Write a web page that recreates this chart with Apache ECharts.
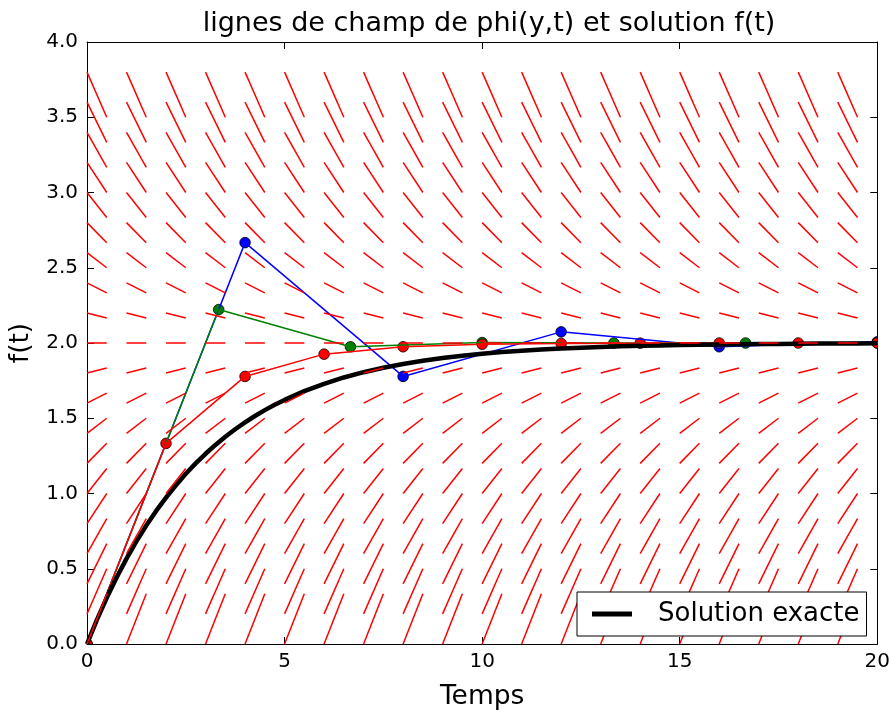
<!DOCTYPE html>
<html><head><meta charset="utf-8">
<script src="https://cdn.jsdelivr.net/npm/echarts@6/dist/echarts.min.js"></script>
<style>html,body{margin:0;padding:0;background:#fff}#chart{width:893px;height:716px}</style>
</head><body><div id="chart"></div>
<script>
// ---- data ----
const xTicks = [0, 5, 10, 15, 20];
const yTicks = [0, 0.5, 1.0, 1.5, 2.0, 2.5, 3.0, 3.5, 4.0];

// Euler approximations
const tBlue  = [0, 4, 8, 12, 16, 20];
const yBlue  = [0, 2.667, 1.778, 2.074, 1.975, 2.008];
const tGreen = [0, 3.333, 6.667, 10, 13.333, 16.667, 20];
const yGreen = [0, 2.222, 1.975, 2.003, 1.9997, 2.0, 2.0];
const tRed   = [0, 2, 4, 6, 8, 10, 12, 14, 16, 18, 20];
const yRed   = [0, 1.333, 1.778, 1.926, 1.975, 1.992, 1.997, 1.999, 2.0, 2.0, 2.0];

// exact solution
const tExact = [0,0.25,0.5,0.75,1,1.25,1.5,1.75,2,2.25,2.5,2.75,3,3.25,3.5,3.75,4,4.25,4.5,4.75,5,
                5.5,6,6.5,7,7.5,8,8.5,9,9.5,10,
                10.5,11,11.5,12,12.5,13,13.5,14,14.5,15,15.5,16,16.5,17,17.5,18,18.5,19,19.5,20];
const yExact = [0,0.160,0.307,0.442,0.567,0.682,0.787,0.884,0.973,1.055,1.131,1.200,1.264,1.323,1.377,1.427,1.473,1.515,1.554,1.589,1.622,
                1.680,1.729,1.771,1.806,1.836,1.861,1.882,1.900,1.916,1.929,
                1.940,1.949,1.957,1.963,1.969,1.974,1.978,1.981,1.984,1.987,
                1.989,1.990,1.992,1.993,1.994,1.995,1.996,1.996,1.997,1.998];

// direction field: grid columns, rows, slope per row
const fieldT = [0,1,2,3,4,5,6,7,8,9,10,11,12,13,14,15,16,17,18,19];
const fieldY = [0,0.2,0.4,0.6,0.8,1.0,1.2,1.4,1.6,1.8,2.0,2.2,2.4,2.6,2.8,3.0,3.2,3.4,3.6,3.8];
const fieldSlope = [0.667,0.6,0.533,0.467,0.4,0.333,0.267,0.2,0.133,0.067,0,
                    -0.067,-0.133,-0.2,-0.267,-0.333,-0.4,-0.467,-0.533,-0.6];
const SEG = 0.5;

const zip = (a, b) => a.map((v, i) => [v, b[i]]);
const fieldData = [];
fieldY.forEach((y, i) => fieldT.forEach(t => fieldData.push([t, y, fieldSlope[i]])));

const FONT = 'DejaVu Sans';
const chart = echarts.init(document.getElementById('chart'), null, {renderer: 'canvas'});

const axisCommon = {
  type: 'value',
  axisLine: {show: true, onZero: false, lineStyle: {color: '#000', width: 1}},
  axisTick: {show: true, inside: true, length: 7, lineStyle: {color: '#000', width: 1}},
  splitLine: {show: false},
};

function eulerLine(name, t, y, color) {
  return {
    name, type: 'line', data: zip(t, y), z: 2,
    showSymbol: false, symbol: 'none',
    lineStyle: {color, width: 1.5},
    itemStyle: {color},
    emphasis: {disabled: true}
  };
}
function eulerMarkers(name, t, y, color) {
  return {
    name: name + '_m', type: 'custom', data: zip(t, y), z: 2, clip: true,
    encode: {x: 0, y: 1},
    renderItem: function (params, api) {
      const p = api.coord([api.value(0), api.value(1)]);
      const cs = params.coordSys;
      return {
        type: 'circle', shape: {cx: p[0], cy: p[1], r: 5.3},
        style: {fill: color, stroke: '#000', lineWidth: 0.8},
        clipPath: {type: 'rect', shape: {x: cs.x, y: cs.y, width: cs.width, height: cs.height}}
      };
    }
  };
}

chart.setOption({
  animation: false,
  backgroundColor: '#fff',
  title: {
    text: 'lignes de champ de phi(y,t) et solution f(t)',
    left: 484, top: 5, textAlign: 'center',
    textStyle: {fontFamily: FONT, fontSize: 27, fontWeight: 'normal', color: '#000'}
  },
  grid: {left: 87, right: 15, top: 42, bottom: 68, containLabel: false},
  legend: {
    data: ['Solution exacte'],
    left: 577, top: 592, z: 20,
    orient: 'vertical',
    backgroundColor: '#fff', borderColor: '#000', borderWidth: 1, borderRadius: 0,
    padding: [9, 7, 9, 15],
    itemWidth: 40, itemHeight: 5, icon: 'rect',
    textStyle: {fontFamily: FONT, fontSize: 26, color: '#000', padding: [0, 0, 0, 21]}
  },
  xAxis: [
    Object.assign({}, axisCommon, {
      min: 0, max: 20, interval: 5, position: 'bottom',
      name: 'Temps', nameLocation: 'middle', nameGap: 40,
      nameTextStyle: {fontFamily: FONT, fontSize: 26.5, color: '#000'},
      axisLabel: {fontFamily: FONT, fontSize: 20, color: '#000', margin: 8,
                  formatter: v => xTicks.includes(v) ? String(v) : ''}
    }),
    Object.assign({}, axisCommon, {
      min: 0, max: 20, interval: 5, position: 'top', axisLabel: {show: false}
    })
  ],
  yAxis: [
    Object.assign({}, axisCommon, {
      min: 0, max: 4, interval: 0.5, position: 'left',
      name: 'f(t)', nameLocation: 'middle', nameGap: 52,
      nameTextStyle: {fontFamily: FONT, fontSize: 26.5, color: '#000'},
      axisLabel: {fontFamily: FONT, fontSize: 20, color: '#000', margin: 9,
                  formatter: v => yTicks.includes(v) ? v.toFixed(1) : ''}
    }),
    Object.assign({}, axisCommon, {
      min: 0, max: 4, interval: 0.5, position: 'right', axisLabel: {show: false}
    })
  ],
  series: [
    eulerLine('h4', tBlue, yBlue, '#0000ff'),
    eulerMarkers('h4', tBlue, yBlue, '#0000ff'),
    eulerLine('h3', tGreen, yGreen, '#008000'),
    eulerMarkers('h3', tGreen, yGreen, '#008000'),
    eulerLine('h2', tRed, yRed, '#ff0000'),
    eulerMarkers('h2', tRed, yRed, '#ff0000'),
    {
      name: 'Solution exacte', type: 'line', data: zip(tExact, yExact), z: 3,
      showSymbol: false, symbol: 'none', smooth: false,
      lineStyle: {color: '#000', width: 4.5, join: 'round'},
      itemStyle: {color: '#000'},
      emphasis: {disabled: true}
    },
    {
      name: 'field', type: 'custom', data: fieldData, z: 4,
      encode: {x: 0, y: 1},
      renderItem: function (params, api) {
        const t = api.value(0), y = api.value(1), s = api.value(2);
        const p1 = api.coord([t, y]);
        const p2 = api.coord([t + SEG, y + SEG * s]);
        return {type: 'line', shape: {x1: p1[0], y1: p1[1], x2: p2[0], y2: p2[1]},
                style: {stroke: '#ff0000', lineWidth: 1.5}};
      }
    }
  ]
});
</script>
</body></html>
